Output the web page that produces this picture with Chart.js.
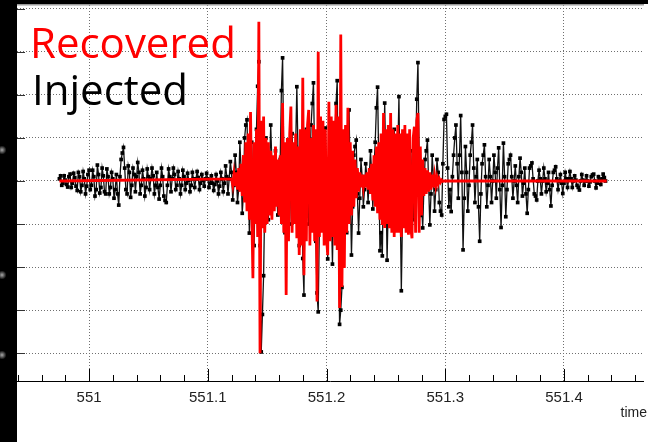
<!DOCTYPE html>
<html>
<head>
<meta charset="utf-8">
<script src="https://cdn.jsdelivr.net/npm/chart.js@4.4.1/dist/chart.umd.min.js"></script>
<style>
  html, body { margin: 0; padding: 0; background: #fff; }
  #wrap { width: 648px; height: 442px; }
</style>
</head>
<body>
<div id="wrap"><canvas id="c" width="648" height="442"></canvas></div>
<script>
// ---- data ----
const blackStart = 550.975;   // first injected sample (time)
const blackStep = 0.001;      // sample spacing of injected series
const injectedValues = [
  0.05, 0.12, -0.1, -0.05, 0.12, 0.02, -0.08, -0.14, 0.1, 0.16, -0.15, -0.05, 0.18, 0.08, -0.12, -0.22, 0.2, 0.1, -0.25, -0.1,
  0.22, 0.05, -0.3, -0.12, 0.15, 0.25, -0.2, -0.1, 0.25, 0.1, -0.35, -0.2, 0.37, 0.15, -0.28, -0.15, 0.3, 0.12, -0.25, -0.3,
  0.28, 0.1, -0.3, -0.15, 0.2, 0.05, -0.4, -0.2, 0.15, -0.3, -0.56, 0.1, 0.5, 0.65, 0.78, 0.3, -0.2, -0.3, 0.35, 0.2,
  -0.38, -0.1, 0.3, 0.15, -0.25, 0.1, 0.43, 0.2, -0.3, -0.1, 0.25, 0.05, -0.35, -0.15, 0.28, 0.1, -0.2, 0.05, 0.3, 0.12,
  -0.3, -0.1, 0.2, -0.15, -0.42, -0.1, 0.3, 0.1, -0.35, -0.45, -0.5, -0.1, 0.28, 0.1, -0.25, 0.05, 0.3, 0.15, -0.2, -0.1,
  0.22, 0.05, -0.3, -0.1, 0.25, 0.1, -0.2, -0.05, 0.18, 0.02, -0.25, -0.1, 0.2, 0.05, -0.15, 0.05, 0.22, 0.08, -0.2, -0.05,
  0.15, 0.02, -0.12, 0.05, 0.18, 0.05, -0.15, -0.05, 0.12, -0.05, -0.22, -0.08, 0.15, 0.0, -0.3, -0.12, 0.2, 0.05, -0.25, -0.05,
  0.35, 0.1, -0.3, 0.05, 0.45, 0.2, -0.44, -0.1, 0.6, 0.2, -0.5, -0.2, 0.9, 0.3, -0.75, -0.3, 1.0, 1.3, 1.42, 0.2,
  -1.21, -0.5, 0.9, -0.4, -1.5, 0.2, 1.2, 2.2, 2.77, -1.5, -3.97, -3.1, -2.2, -0.4, 1.0, 0.2, -0.9, 0.3, 1.3, 0.4,
  -0.6, 0.2, 0.7, -0.3, -0.79, 0.1, 0.5, 2.1, 2.86, 0.5, -1.2, -0.3, 0.8, 0.1, -1.0, 0.2, 1.1, 0.3, -0.7, 0.8,
  2.19, 0.6, -1.5, -0.3, 0.9, -1.8, -2.65, 0.2, 1.2, 0.3, -1.0, 0.4, 1.3, 1.8, 2.28, 0.5, -1.4, -2.6, -3.04, -1.0,
  0.9, 0.2, -1.0, 0.3, 1.23, -0.5, -1.81, -0.4, 0.8, -0.6, -1.93, -0.2, 1.1, 1.8, 2.33, -0.8, -3.33, -3.0, -2.47, -0.5,
  0.9, 0.1, -1.2, 0.4, 1.65, -0.2, -1.72, -0.6, 0.6, 0.8, 0.95, -0.3, -1.21, -0.4, 0.5, 0.1, -0.6, -0.2, 0.4, 0.1,
  -0.5, 0.1, 0.7, 0.2, -0.65, 0.3, 0.9, 1.7, 2.18, 0.4, -1.62, -1.2, -1.74, 0.3, 1.81, 0.2, -1.84, -0.5, 1.0, 0.3,
  -1.0, 0.2, 1.2, 0.3, -0.9, 0.6, 1.96, -0.4, -2.55, -0.8, 0.7, 0.5, 0.86, -0.2, -0.8, 0.1, 0.7, -0.2, -0.9, -0.3,
  0.6, 1.9, 2.75, 0.6, -0.8, -0.5, -1.09, -0.2, 0.5, 0.7, 0.95, -0.1, -1.02, -0.3, 0.6, 0.1, -0.7, -0.2, 0.5, 0.2,
  -0.5, -0.7, -0.79, 0.4, 1.43, 1.5, 1.55, 0.3, -0.6, -0.2, -0.71, 0.1, 0.6, 1.0, 1.3, 0.4, -0.4, 0.6, 1.52, 0.2,
  -1.6, -0.4, 0.8, 0.2, -0.7, -0.1, 0.6, 0.9, 1.3, 0.3, -0.5, 0.1, 0.5, -0.6, -1.4, -0.3, 0.4, 0.6, 0.84, 0.1,
  -0.6, -0.1, 0.5, 0.1, -0.5, 0.0, 0.6, 0.2, -0.4, 0.3, 0.77, -0.2, -1.08, -0.1, 0.88, 0.1, -0.83, -0.2, 0.4, 0.5,
  0.6, 0.1, -0.4, 0.0, 0.35, -0.1, -0.5, 0.1, 0.53, 0.2, -0.35, -0.05, 0.3, -0.3, -0.75, -0.2, 0.3, 0.35, 0.42, 0.05,
  -0.3, -0.35, -0.44, 0.0, 0.25, 0.05, -0.3, 0.0, 0.3, 0.05, -0.25, -0.05, 0.2, -0.2, -0.58, -0.1, 0.2, 0.25, 0.33, 0.05,
  -0.2, 0.0, 0.15, -0.05, -0.29, -0.05, 0.2, 0.05, -0.15, 0.05, 0.22, 0.05, -0.15, 0.0, 0.12, 0.02, -0.1, -0.15, -0.21, 0.0,
  0.15, 0.02, -0.1, 0.0, 0.12, 0.0, -0.12, -0.02, 0.1, 0.14, 0.16, 0.0, -0.16, -0.05, 0.1, 0.02, -0.08, 0.05, 0.16, 0.08, 0.0
];

const redFlatStart = 550.975;   // recovered series: flat start
const redFlatEnd = 551.436;     // recovered series: flat end
const redBurstStart = 551.120;  // first sample of recovered burst
const redBurstStep = 0.001;
const recoveredBurst = [
  0.05, -0.1, 0.15, -0.12, 0.2, -0.2, 0.3, -0.25, 0.4, -0.35,
  0.6, -0.5, 0.9, -0.7, 1.1, -0.9, 1.6, -0.6, -2.26, 0.9,
  -1.0, 1.2, -1.3, 3.7, -4.0, 1.4, -1.1, 1.5, -1.2, 1.0,
  -1.0, 0.9, -0.8, 0.7, -0.9, 0.6, -0.7, 0.8, -0.6, 0.5,
  -0.8, 0.6, -1.0, 1.81, -1.2, 0.9, -2.65, 1.0, -1.4, 1.1,
  1.73, -1.2, 0.9, -1.0, 1.1, -1.33, 0.8, -1.72, 1.2, -1.5,
  2.4, -2.19, 1.2, -1.4, 1.3, 1.65, -1.5, 1.0, -1.2, 1.3,
  -1.4, 1.2, -2.8, 3.0, -1.3, 1.5, -1.2, 1.4, -1.5, 1.2,
  -1.3, -1.72, 1.84, -1.4, 1.5, -1.3, 1.4, -1.5, 1.77, -1.6,
  1.5, -2.95, 3.4, -2.46, 1.2, -2.02, 1.3, -1.2, 1.7, -1.0,
  0.9, -0.8, 0.7, -0.6, 0.5, -0.4, 0.3, -0.25, 0.2, -0.15,
  0.15, -0.12, 0.15, -0.15, 0.2, -0.2, 0.3, -0.3, 0.4, -0.45,
  0.6, -0.6, 0.8, -0.75, 0.9, -0.9, 1.1, -1.02, 1.58, -1.09,
  1.2, -1.0, 1.3, -1.1, 1.58, -1.2, 1.2, -1.3, 1.1, -1.2,
  1.3, -1.2, 1.1, -1.3, 1.2, -1.1, 1.3, -1.2, 1.1, -1.25,
  1.2, -1.1, -1.33, 1.0, 1.26, -1.2, 1.4, 1.58, -1.2, 0.8,
  -0.8, 0.5, -0.35, 0.3, -0.3, 0.25, -0.25, 0.2, -0.2, 0.15,
  -0.15, 0.12, -0.1, 0.08, -0.06, 0.05, -0.03, 0.02, -0.01, 0.0, 0.0
];

const xTickValues = [551, 551.1, 551.2, 551.3, 551.4];
const xTickLabels = ['551', '551.1', '551.2', '551.3', '551.4'];
const xMinorTicks = [550.94, 550.96, 550.98, 551.02, 551.04, 551.06, 551.08,
  551.12, 551.14, 551.16, 551.18, 551.22, 551.24, 551.26, 551.28,
  551.32, 551.34, 551.36, 551.38, 551.42, 551.44, 551.46];
const yTickValues = [-4, -3, -2, -1, 0, 1, 2, 3, 4];
const legendLabels = ['Recovered', 'Injected'];
const xAxisTitle = 'time';

// ---- build datasets ----
const injectedData = injectedValues.map((v, i) => ({ x: blackStart + i * blackStep, y: v }));
const recoveredData = [{ x: redFlatStart, y: 0 }]
  .concat(recoveredBurst.map((v, j) => ({ x: redBurstStart + j * redBurstStep, y: v })))
  .concat([{ x: redFlatEnd, y: 0 }]);

const decor = {
  id: 'decor',
  beforeDraw(chart) {
    const ctx = chart.ctx;
    ctx.save();
    ctx.fillStyle = '#fff';
    ctx.fillRect(0, 0, chart.width, chart.height);
    ctx.restore();
  },
  afterDraw(chart) {
    const { ctx, chartArea: a, scales } = chart;
    const xs = scales.x, ys = scales.y;
    ctx.save();
    // top frame
    ctx.fillStyle = '#000';
    ctx.fillRect(0, 0, chart.width, 4);
    ctx.fillStyle = '#9a9a9a';
    ctx.fillRect(a.left, 4, a.right - a.left, 1.5);
    // x axis line
    ctx.strokeStyle = '#000';
    ctx.lineWidth = 1;
    ctx.beginPath();
    ctx.moveTo(a.left, a.bottom - 0.5);
    ctx.lineTo(a.right, a.bottom - 0.5);
    ctx.stroke();
    // x ticks
    ctx.beginPath();
    xTickValues.forEach(v => {
      const px = Math.round(xs.getPixelForValue(v)) + 0.5;
      ctx.moveTo(px, a.bottom - 1);
      ctx.lineTo(px, a.bottom - 13);
    });
    xMinorTicks.forEach(v => {
      const px = Math.round(xs.getPixelForValue(v)) + 0.5;
      ctx.moveTo(px, a.bottom - 1);
      ctx.lineTo(px, a.bottom - 7);
    });
    ctx.stroke();
    // y ticks
    ctx.strokeStyle = '#333';
    ctx.beginPath();
    yTickValues.forEach(v => {
      const py = Math.round(ys.getPixelForValue(v)) + 0.5;
      ctx.moveTo(a.left, py);
      ctx.lineTo(a.left + 8, py);
    });
    ctx.stroke();
    // left black strip
    ctx.fillStyle = '#000';
    ctx.fillRect(0, 0, a.left, chart.height);
    // faint remnants of cut-off labels
    [150, 275, 355].forEach(py => {
      const g = ctx.createRadialGradient(2, py, 0, 2, py, 4.5);
      g.addColorStop(0, 'rgba(200,200,200,0.85)');
      g.addColorStop(1, 'rgba(200,200,200,0)');
      ctx.fillStyle = g;
      ctx.fillRect(0, py - 5, 8, 10);
    });
    // legend texts
    ctx.textBaseline = 'alphabetic';
    ctx.textAlign = 'left';
    ctx.font = '42px "Open Sans"';
    ctx.fillStyle = '#ff0000';
    ctx.fillText(legendLabels[0], 30, 58);
    ctx.fillStyle = '#000';
    ctx.fillText(legendLabels[1], 32, 105);
    // axis title
    ctx.font = '14px "Liberation Sans"';
    ctx.fillStyle = '#222';
    ctx.textAlign = 'right';
    ctx.fillText(xAxisTitle, 647, 417);
    ctx.restore();
  }
};

new Chart(document.getElementById('c'), {
  type: 'line',
  data: {
    datasets: [
      {
        label: legendLabels[0],
        data: recoveredData,
        borderColor: '#ff0000',
        borderWidth: 2.8,
        pointRadius: 0,
        tension: 0,
        fill: false,
        order: 0
      },
      {
        label: legendLabels[1],
        data: injectedData,
        borderColor: '#111',
        borderWidth: 1.3,
        pointRadius: 2.6,
        pointStyle: 'rect',
        pointBackgroundColor: '#000',
        pointBorderWidth: 0,
        tension: 0,
        fill: false,
        order: 1
      }
    ]
  },
  options: {
    responsive: false,
    devicePixelRatio: 1,
    animation: false,
    events: [],
    layout: { padding: { left: 0, top: 5, right: 0, bottom: 0 } },
    plugins: { legend: { display: false }, tooltip: { enabled: false } },
    scales: {
      x: {
        type: 'linear',
        position: 'bottom',
        min: 550.9393,
        max: 551.4674,
        afterBuildTicks: s => { s.ticks = xTickValues.map(v => ({ value: v })); },
        afterFit: s => { s.height = 60; },
        ticks: {
          autoSkip: false,
          maxRotation: 0,
          padding: 7,
          color: '#222',
          font: { family: 'Liberation Sans', size: 15 },
          callback: (v, i) => xTickLabels[i]
        },
        grid: { color: '#6f6f6f', lineWidth: 1, drawTicks: false },
        border: { display: false, dash: [1, 2] }
      },
      y: {
        type: 'linear',
        min: -4.669,
        max: 4.088,
        afterBuildTicks: s => { s.ticks = yTickValues.map(v => ({ value: v })); },
        afterFit: s => { s.width = 17; },
        ticks: { display: false },
        grid: { color: '#6f6f6f', lineWidth: 1, drawTicks: false },
        border: { display: false, dash: [1, 2] }
      }
    }
  },
  plugins: [decor]
});
</script>
</body>
</html>
